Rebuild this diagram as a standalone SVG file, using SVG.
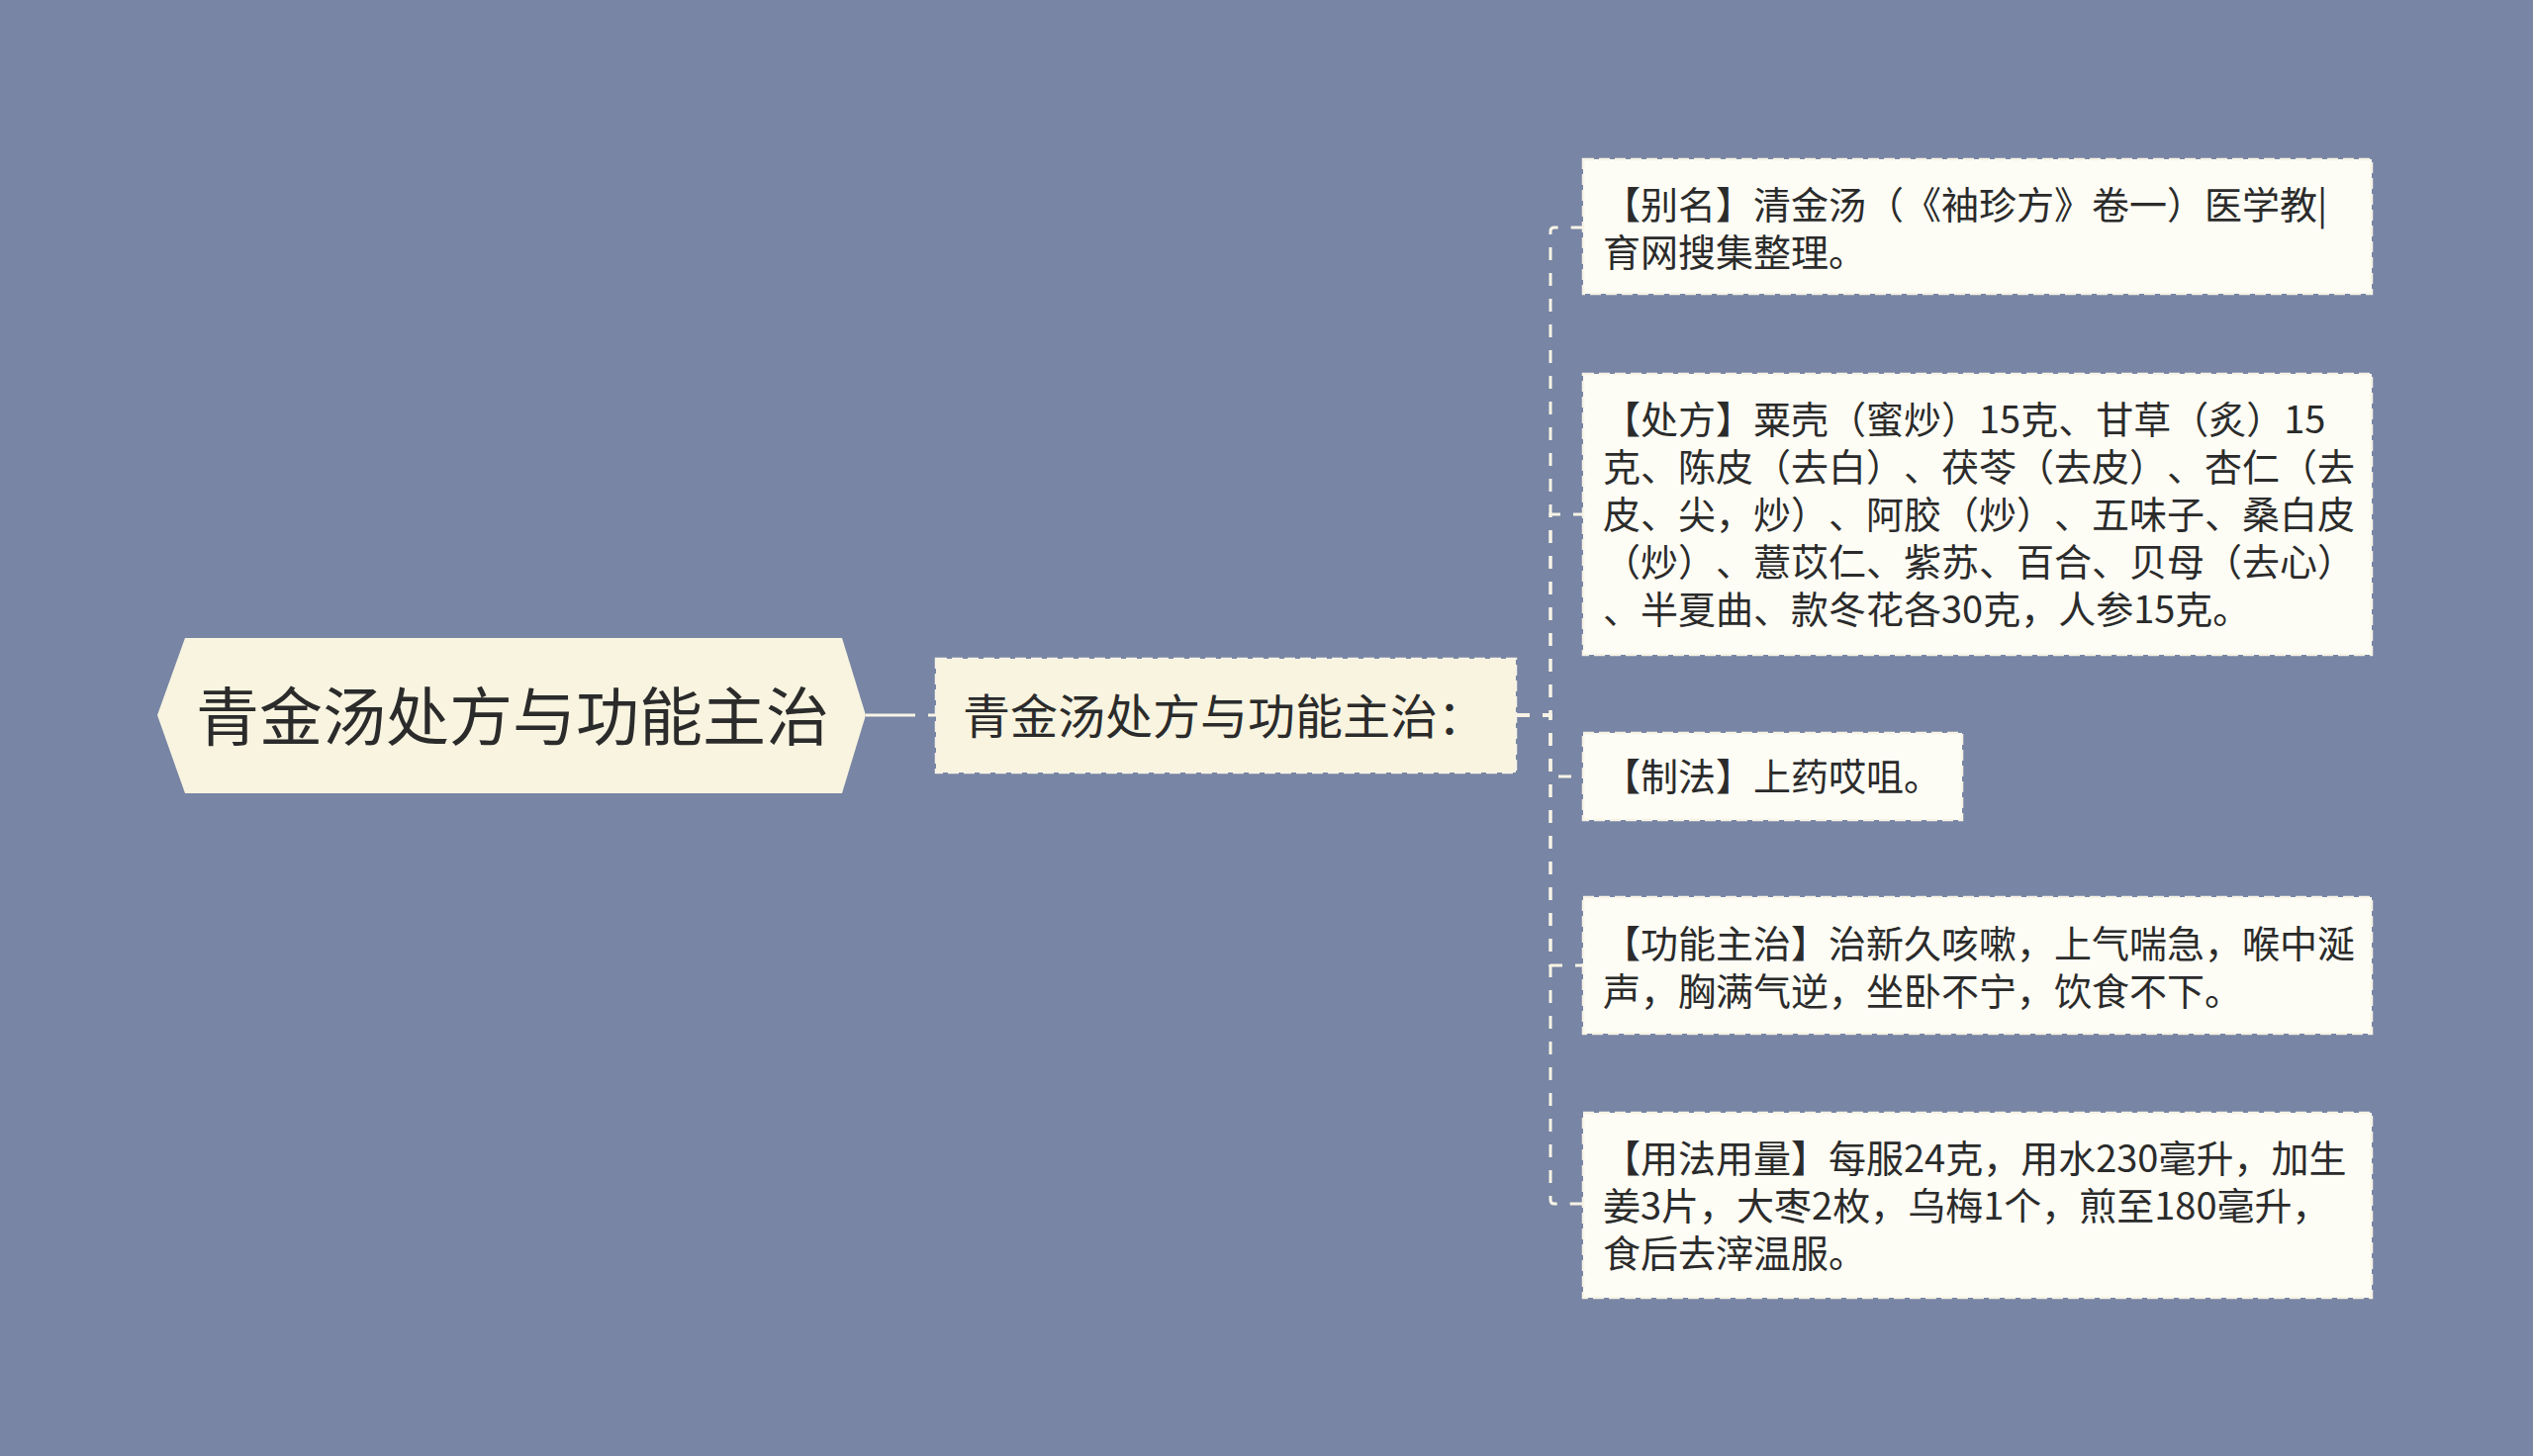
<svg xmlns="http://www.w3.org/2000/svg" width="2560" height="1472" viewBox="0 0 2560 1472">
<style>
.txt{font-family:"Noto Sans CJK SC","Noto Sans",sans-serif;fill:#2b2b2b;text-spacing-trim:space-all}
.root{font-size:64px}
.mid{font-size:48px}
.leaf{font-size:38px}
.leafbox{fill:#FDFDF5;stroke:#F7F4E6;stroke-width:2.5;stroke-dasharray:11 5}
.midbox{fill:#F8F4E0;stroke:#F7F4E6;stroke-width:2.5;stroke-dasharray:11 5}
.conn{fill:none;stroke:#F7F4E6;stroke-width:3;stroke-dasharray:13 13}
</style>
<rect x="0" y="0" width="2560" height="1472" fill="#7885A4"/>
<g id="connectors">
<path d="M875 723 H947" fill="none" stroke="#F7F4E6" stroke-width="3" stroke-dasharray="50 13"/>
<path class="conn" d="M1533 723 H1567 V234 Q1567 230 1571 230 H1600"/>
<path class="conn" d="M1533 723 H1567 V520 H1600"/>
<path class="conn" d="M1533 723 H1567 V785 H1600"/>
<path class="conn" d="M1533 723 H1567 V976 H1600"/>
<path class="conn" d="M1533 723 H1567 V1213 Q1567 1217 1571 1217 H1600"/>
</g>
<g id="root">
<polygon points="159,723 187,645 851,645 875,723 851,802 187,802" fill="#F8F4E0"/>
<text class="txt root" x="198" y="748">青金汤处方与功能主治</text>
</g>
<g id="mid">
<rect class="midbox" x="946" y="666" width="586" height="115"/>
<text class="txt mid" x="973" y="742">青金汤处方与功能主治：</text>
</g>
<g id="leaf1">
<rect class="leafbox" x="1600" y="161" width="797" height="136"/>
<text class="txt leaf" x="1620" y="221">【别名】清金汤（《袖珍方》卷一）医学教|</text>
<text class="txt leaf" x="1620" y="269">育网搜集整理。</text>
</g>
<g id="leaf2">
<rect class="leafbox" x="1600" y="378" width="797" height="284"/>
<text class="txt leaf" x="1620" y="438">【处方】粟壳（蜜炒）15克、甘草（炙）15</text>
<text class="txt leaf" x="1620" y="486">克、陈皮（去白）、茯苓（去皮）、杏仁（去</text>
<text class="txt leaf" x="1620" y="534">皮、尖，炒）、阿胶（炒）、五味子、桑白皮</text>
<text class="txt leaf" x="1620" y="582">（炒）、薏苡仁、紫苏、百合、贝母（去心）</text>
<text class="txt leaf" x="1620" y="630">、半夏曲、款冬花各30克，人参15克。</text>
</g>
<g id="leaf3">
<rect class="leafbox" x="1600" y="741" width="383" height="88"/>
<text class="txt leaf" x="1620" y="799">【制法】上药哎咀。</text>
</g>
<g id="leaf4">
<rect class="leafbox" x="1600" y="907" width="797" height="138"/>
<text class="txt leaf" x="1620" y="968">【功能主治】治新久咳嗽，上气喘急，喉中涎</text>
<text class="txt leaf" x="1620" y="1016">声，胸满气逆，坐卧不宁，饮食不下。</text>
</g>
<g id="leaf5">
<rect class="leafbox" x="1600" y="1125" width="797" height="187"/>
<text class="txt leaf" x="1620" y="1185">【用法用量】每服24克，用水230毫升，加生</text>
<text class="txt leaf" x="1620" y="1233">姜3片，大枣2枚，乌梅1个，煎至180毫升，</text>
<text class="txt leaf" x="1620" y="1281">食后去滓温服。</text>
</g>
</svg>
